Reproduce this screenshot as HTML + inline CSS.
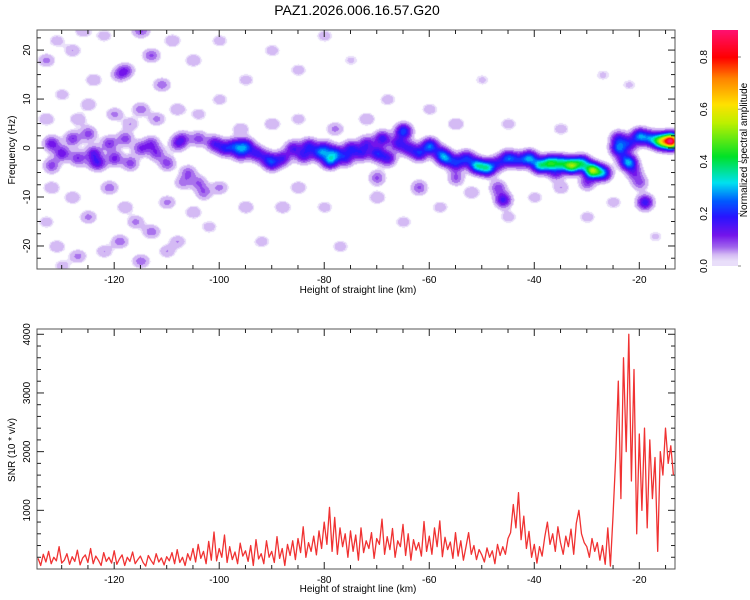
<!DOCTYPE html>
<html><head><meta charset="utf-8"><style>
body{margin:0;background:#fff;width:750px;height:600px;overflow:hidden;font-family:"Liberation Sans",sans-serif}
#wrap{position:relative;width:750px;height:600px}
canvas{position:absolute}
svg{position:absolute;left:0;top:0}
</style></head><body>
<div id="wrap">
<canvas id="spec" width="638" height="239" style="left:37px;top:30px"></canvas>
<canvas id="cbar" width="26" height="236" style="left:712px;top:30px"></canvas>
<svg id="svg" width="750" height="600"></svg>
</div>
<script>
// ---- data ----
const strongX=[-132,-132,-130,-128,-127,-125,-124,-123,-121,-120,-118,-117,-115,-113,-112,-110,-108,-107,-106,-104,-104,-103,
-101,-99,-97,-96,-95,-93,-91,-90,-88,-86,-84,-83,-81,-80,-79,-78,-76,-75,-73,-72,-70,-69,-68,-66,-65,-64,-62,-60,-58,-57,-55,-53,-51,-49,-47,-45,-43,-41,-39,-37,-35,-33,-31,-29,-27,-46,-47,-24,-24,-22,-20,-18,-16,-14,-22,-21,-20,-19,-23,-30,-36,-55,-62,-70];
const strongF=[1,-3.5,-1,2,-2,3,-1,-3,1,-2,2,-3,0,1,-1,-3,1,2,-5,2,-7,-9,
1,0,0.5,-1,0.5,-1,-2,-3,-2,0,-1.5,0.5,-1,0,-2.5,-1,-2,0,-1,1,-1,2,-2,1,3.5,0,-1,0.5,-1,-2,-3,-2,-3.5,-4,-3,-2,-2.5,-2,-3.5,-3,-3,-3.5,-3,-4.5,-5,-10.5,-8,2,0,1,2.5,2,1.5,1.5,-3,-5,-7,-11,-2,-7,-5,-6,-8,-6];
const strongA=[0.12,0.09,0.12,0.1,0.1,0.09,0.13,0.1,0.1,0.11,0.09,0.09,0.1,0.09,0.09,0.09,0.1,0.09,0.08,0.09,0.07,0.07,
0.14,0.16,0.17,0.14,0.2,0.15,0.12,0.16,0.14,0.14,0.14,0.16,0.18,0.14,0.25,0.2,0.15,0.16,0.14,0.13,0.18,0.17,0.15,0.15,0.22,0.14,0.18,0.24,0.15,0.22,0.18,0.18,0.3,0.3,0.13,0.22,0.15,0.26,0.3,0.35,0.28,0.45,0.3,0.5,0.25,0.16,0.09,0.15,0.22,0.15,0.25,0.2,0.45,0.85,0.25,0.09,0.08,0.17,0.1,0.09,0.1,0.08,0.08,0.08];
const faintX=[-133,-131,-128,-126,-122,-115,-113,-118,-119,-111,-124,-130,-125,-120,-115,-112,-117,-108,-104,-127,-133,-100,-95,-90,-85,-80,-75,-100,-105,-109,-96,-90,-85,-78,-72,-68,-60,-55,-45,-35,-50,-27,-22,
-132,-128,-125,-121,-118,-116,-113,-119,-122,-127,-131,-133,-115,-110,-108,-105,-102,-110,-107,-100,-95,-92,-88,-85,-80,-77,-70,-65,-58,-52,-45,-40,-35,-30,-25,-17,-124,-130];
const faintF=[18,22,20,24,23,24,19,16,15,13,14,11,9,7,8,6,5,8,7,6,6,10,14,20,16,23,18,22,18,22,4,5,6,4,6,10,8,5,5,4,14,15,13,
-8,-10,-14,-8,-12,-15,-17,-19,-21,-22,-20,-15,-23,-21,-19,-13,-16,-11,-7,-8,-12,-19,-12,-8,-12,-20,-10,-15,-12,-9,-14,-10,-8,-14,-11,-18,-3,-24];
const faintA=[0.06,0.04,0.05,0.05,0.04,0.08,0.08,0.09,0.07,0.07,0.05,0.04,0.05,0.06,0.07,0.06,0.05,0.05,0.04,0.05,0.05,0.04,0.04,0.04,0.04,0.04,0.03,0.04,0.05,0.05,0.05,0.05,0.04,0.06,0.05,0.04,0.04,0.05,0.04,0.04,0.03,0.03,0.03,
0.05,0.05,0.06,0.07,0.05,0.06,0.07,0.07,0.05,0.06,0.05,0.04,0.07,0.05,0.05,0.05,0.04,0.06,0.06,0.06,0.05,0.04,0.05,0.05,0.04,0.04,0.05,0.04,0.04,0.05,0.04,0.04,0.05,0.04,0.04,0.03,0.05,0.04];
const snrStart=-134.5, snrStep=0.5;
const snrValues=[180,60,250,120,300,90,200,140,380,100,
150,260,80,210,130,320,70,190,240,110,
350,90,220,150,60,280,130,200,100,310,
80,170,240,60,200,130,290,90,160,220,
110,50,230,150,80,260,120,190,70,210,
140,280,90,330,110,200,60,260,150,350,
120,420,180,300,90,470,150,630,140,350,
200,580,110,380,160,290,90,440,220,310,
130,400,60,500,170,260,90,480,200,300,
110,550,180,350,60,420,230,480,160,520,
280,720,200,450,300,560,240,650,350,800,
420,1050,300,880,250,700,380,600,200,650,
300,580,150,700,280,480,350,620,180,520,
420,850,250,550,330,690,200,480,380,760,
230,600,150,500,320,450,220,810,300,560,
250,700,380,820,210,540,330,460,180,620,
220,480,150,380,620,250,400,160,330,240,
120,360,200,310,90,420,230,380,250,520,
620,1100,700,1300,500,900,350,640,200,420,
100,380,220,550,800,420,600,300,720,450,
250,560,380,680,250,780,1000,600,450,380,
200,520,300,450,150,400,80,700,50,900,
1900,3200,1200,3600,2000,4000,1500,3400,600,2300,
1000,2400,700,2200,1200,1900,300,2000,1600,2400,
1800,2100,1600];
const xTicks=[-120,-100,-80,-60,-40,-20];
const fTicks=[20,10,0,-10,-20];
const snrTicks=[1000,2000,3000,4000];
const cbTicks=[0.0,0.2,0.4,0.6,0.8];

// ---- scales ----
const X0=-134.7,X1=-13.2,PL=37,PR=675;
const F0=-24.7,F1=24.1,TT=30,TB=269;
const S0=0,S1=4090,BT=329,BB=569;
const sx=v=>PL+(v-X0)/(X1-X0)*(PR-PL);
const sf=v=>TB-(v-F0)/(F1-F0)*(TB-TT);
const ss=v=>BB-(v-S0)/(S1-S0)*(BB-BT);
const CB0=266,CB1=57; const sc=v=>CB0+(CB1-CB0)*v/0.8;

const stops=[[0,[255,255,255]],[0.02,[234,224,250]],[0.045,[212,186,244]],[0.075,[160,100,236]],[0.12,[115,20,235]],[0.19,[40,20,255]],[0.25,[0,90,255]],[0.32,[0,225,240]],[0.42,[0,225,40]],[0.55,[190,240,0]],[0.62,[255,225,0]],[0.72,[255,130,0]],[0.8,[255,0,0]],[0.93,[255,20,140]]];
function cmap(v){if(v<0.02)return [255,255,255];
 for(let i=1;i<stops.length;i++){if(v<=stops[i][0]){const a=stops[i-1],b=stops[i];const t=(v-a[0])/(b[0]-a[0]);return a[1].map((c,k)=>Math.round(c+(b[1][k]-c)*t));}}return stops[stops.length-1][1];}

// spectrogram
(function(){const c=document.getElementById('spec'),ctx=c.getContext('2d');const W=c.width,H=c.height;const img=ctx.createImageData(W,H);
 const blobs=[];strongX.forEach((x,i)=>blobs.push([sx(x)-PL,sf(strongF[i])-TT,strongA[i],5.4,5.0]));
 faintX.forEach((x,i)=>blobs.push([sx(x)-PL,sf(faintF[i])-TT,faintA[i],5.8,4.5]));
 const field=new Float32Array(W*H);
 blobs.forEach(b=>{const [cx,cy,a,rx,ry]=b;const x0=Math.max(0,Math.floor(cx-rx*3)),x1=Math.min(W-1,Math.ceil(cx+rx*3)),y0=Math.max(0,Math.floor(cy-ry*3)),y1=Math.min(H-1,Math.ceil(cy+ry*3));
  for(let y=y0;y<=y1;y++)for(let x=x0;x<=x1;x++){const dx=(x-cx)/rx,dy=(y-cy)/ry;field[y*W+x]+=a*Math.exp(-0.5*(dx*dx+dy*dy));}});
 for(let i=0;i<W*H;i++){let v=field[i];if(v<0.018){img.data[i*4]=255;img.data[i*4+1]=255;img.data[i*4+2]=255;img.data[i*4+3]=255;continue;}
  v=Math.floor(v/0.025)*0.025+0.02;const col=cmap(v);img.data[i*4]=col[0];img.data[i*4+1]=col[1];img.data[i*4+2]=col[2];img.data[i*4+3]=255;}
 ctx.putImageData(img,0,0);})();
// colorbar
(function(){const c=document.getElementById('cbar'),ctx=c.getContext('2d');for(let y=0;y<c.height;y++){const v=(CB0-(y+30))/(CB0-CB1)*0.8;const col=cmap(Math.max(0.021,v));ctx.fillStyle=`rgb(${col})`;ctx.fillRect(0,y,26,1);}})();

// svg axes
const svg=document.getElementById('svg');const NS='http://www.w3.org/2000/svg';
function el(t,a,p){const e=document.createElementNS(NS,t);for(const k in a)e.setAttribute(k,a[k]);(p||svg).appendChild(e);return e;}
function txt(s,x,y,size,anchor,rot,name){const e=el('text',{x:x,y:y,'font-size':size,'text-anchor':anchor||'middle',fill:'#000','font-family':'Liberation Sans, sans-serif'});if(rot)e.setAttribute('transform',`rotate(-90 ${x} ${y})`);e.textContent=s;return e;}
const t=txt('PAZ1.2026.006.16.57.G20',357,15,14,'middle',0,'chart-title');
function frame(top,bot,name){const r=el('rect',{x:PL,y:top,width:PR-PL,height:bot-top,fill:'none',stroke:'#555','stroke-width':1});
 for(let v=-130;v<=-15;v+=5){const x=sx(v);const L=(v%20===0)?7:4;el('line',{x1:x,y1:top,x2:x,y2:top+L,stroke:'#222'});el('line',{x1:x,y1:bot,x2:x,y2:bot-L,stroke:'#222'});}}
frame(TT,TB,'spectrogram-frame');frame(BT,BB,'snr-frame');
xTicks.forEach(v=>{txt(String(v),sx(v),TB+14,10,'middle',0,'x-tick-label-top');txt(String(v),sx(v),BB+14,10,'middle',0,'x-tick-label-bottom');});
for(let v=-22.5;v<=22.5;v+=2.5){const y=sf(v);const L=(v%10===0)?7:4;el('line',{x1:PL,y1:y,x2:PL+L,y2:y,stroke:'#222'});el('line',{x1:PR,y1:y,x2:PR-L,y2:y,stroke:'#222'});}
fTicks.forEach(v=>txt(String(v),30,sf(v),10,'middle',1,'y-tick-label-frequency'));
for(let v=200;v<=4000;v+=200){const y=ss(v);const L=(v%1000===0)?7:4;el('line',{x1:PL,y1:y,x2:PL+L,y2:y,stroke:'#222'});el('line',{x1:PR,y1:y,x2:PR-L,y2:y,stroke:'#222'});}
snrTicks.forEach(v=>txt(String(v),30,ss(v),10,'middle',1,'y-tick-label-snr'));
txt('Height of straight line (km)',358,293,10,'middle',0,'x-axis-title-top');
txt('Height of straight line (km)',358,592,10,'middle',0,'x-axis-title-bottom');
txt('Frequency (Hz)',15,150,10,'middle',1,'y-axis-title-frequency');
txt('SNR (10 * v/v)',15,450,10,'middle',1,'y-axis-title-snr');
cbTicks.forEach(v=>{txt(v.toFixed(1),707,sc(v),10,'middle',1,'colorbar-tick-label');el('line',{x1:738,y1:sc(v),x2:741,y2:sc(v),stroke:'#888'});});
txt('Normalized spectral amplitude',747,150,10,'middle',1,'colorbar-title');
// SNR line
const pts=snrValues.map((v,i)=>`${sx(snrStart+i*snrStep).toFixed(1)},${ss(v).toFixed(1)}`).join(' ');
const ln=el('polyline',{points:pts,fill:'none',stroke:'#f03232','stroke-width':1.3,'stroke-linejoin':'round'});


</script>
</body></html>
